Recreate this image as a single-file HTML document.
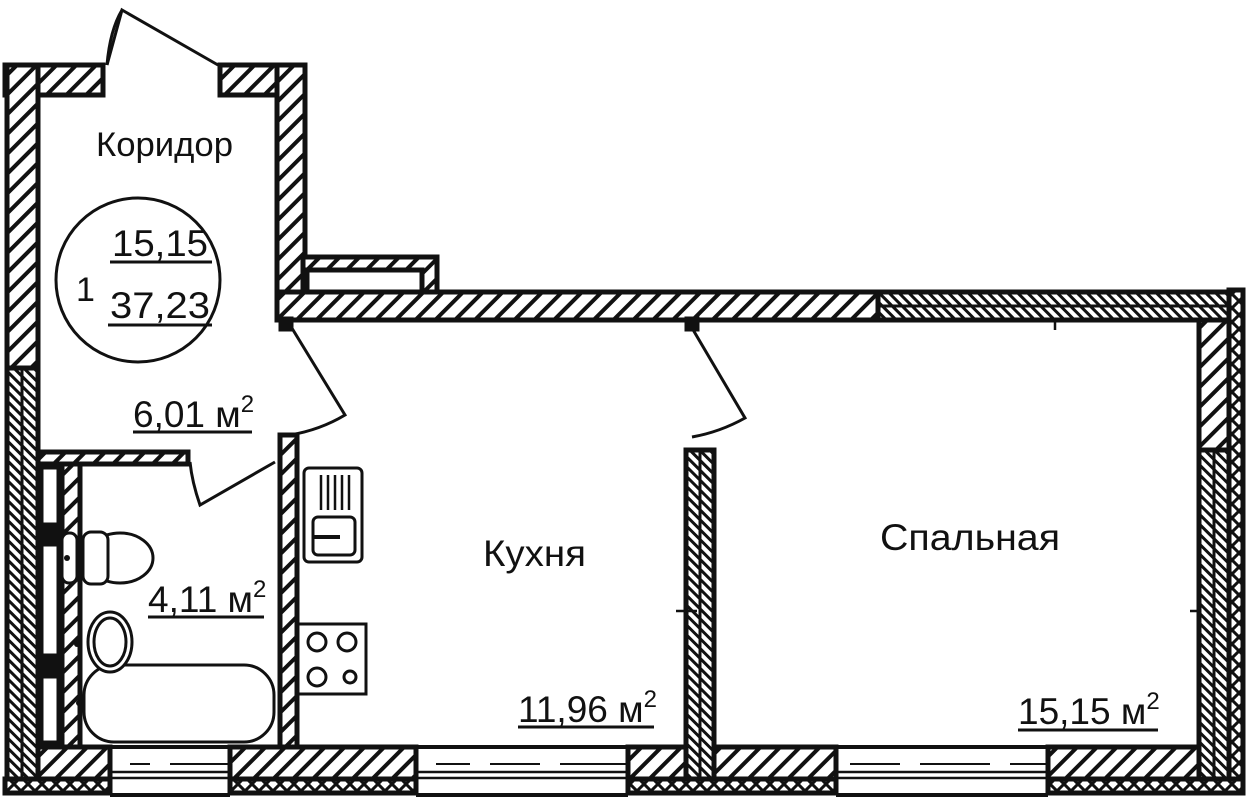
<!DOCTYPE html>
<html><head><meta charset="utf-8"><style>
html,body{margin:0;padding:0;background:#fff;width:1247px;height:801px;overflow:hidden}
svg{display:block}
text{font-family:"Liberation Sans",sans-serif;fill:#111}
</style></head><body>
<svg width="1247" height="801" viewBox="0 0 1247 801" xmlns="http://www.w3.org/2000/svg">
<defs>
<pattern id="h" width="14" height="14" patternUnits="userSpaceOnUse" patternTransform="rotate(45)">
<rect width="14" height="14" fill="#fff"/><rect x="0" y="0" width="4" height="14" fill="#111"/></pattern>
<pattern id="d" width="7" height="7" patternUnits="userSpaceOnUse" patternTransform="rotate(-45)">
<rect width="7" height="7" fill="#fff"/><rect x="0" y="0" width="3" height="7" fill="#111"/></pattern>
<pattern id="x" width="14" height="14" patternUnits="userSpaceOnUse">
<rect width="14" height="14" fill="#fff"/><path d="M0 0L14 14M14 0L0 14" stroke="#111" stroke-width="3"/></pattern>
</defs>
<g stroke="#111" stroke-width="5">
<rect x="5" y="65" width="98" height="30" fill="url(#h)"/>
<rect x="220" y="65" width="85" height="30" fill="url(#h)"/>
<rect x="7" y="65" width="31" height="305" fill="url(#h)"/>
<rect x="7" y="368" width="31" height="412" fill="url(#d)"/>
<line x1="22" y1="370" x2="22" y2="780" stroke-width="3"/>
<rect x="277" y="65" width="28" height="255" fill="url(#h)"/>
<rect x="303" y="257" width="134" height="40" fill="url(#h)"/>
<rect x="307" y="270" width="115" height="34" fill="#fff"/>
<rect x="277" y="292" width="603" height="28" fill="url(#h)"/>
<rect x="878" y="292" width="354" height="28" fill="url(#d)"/>
<line x1="880" y1="306" x2="1230" y2="306" stroke-width="3"/>
<rect x="1199" y="320" width="30" height="130" fill="url(#h)"/>
<rect x="1199" y="450" width="30" height="330" fill="url(#d)"/>
<line x1="1214" y1="452" x2="1214" y2="778" stroke-width="3"/>
<rect x="1229" y="290" width="14" height="500" fill="url(#x)"/>
<rect x="686" y="450" width="28" height="330" fill="url(#d)"/>
<line x1="700" y1="452" x2="700" y2="778" stroke-width="3"/>
<rect x="280" y="435" width="17" height="312" fill="url(#h)"/>
<rect x="38" y="452" width="150" height="12" fill="url(#h)"/>
<rect x="38" y="464" width="24" height="283" fill="#111"/>
<rect x="42" y="468" width="16" height="56" fill="#fff" stroke-width="3"/>
<rect x="42" y="545" width="16" height="110" fill="#fff" stroke-width="3"/>
<rect x="42" y="677" width="16" height="65" fill="#fff" stroke-width="3"/>
<rect x="62" y="464" width="18" height="283" fill="url(#h)"/>
<rect x="38" y="747" width="72" height="32" fill="url(#h)"/>
<rect x="230" y="747" width="186" height="32" fill="url(#h)"/>
<rect x="628" y="747" width="58" height="32" fill="url(#h)"/>
<rect x="714" y="747" width="122" height="32" fill="url(#h)"/>
<rect x="1048" y="747" width="151" height="32" fill="url(#h)"/>
<rect x="5" y="779" width="105" height="14" fill="url(#x)"/>
<rect x="230" y="779" width="186" height="14" fill="url(#x)"/>
<rect x="628" y="779" width="208" height="14" fill="url(#x)"/>
<rect x="1048" y="779" width="195" height="14" fill="url(#x)"/>
</g>
<g stroke="#111" fill="none">
<path d="M110 747H230M110 795H230M416 747H628M416 795H628M836 747H1048M836 795H1048" stroke-width="4"/>
<path d="M110 772H230M110 778H230M416 772H628M416 778H628M836 772H1048M836 778H1048" stroke-width="2.5"/>
<path d="M130 764H150M170 764H228M436 764H470M490 764H540M560 764H626M850 764H900M920 764H990M1010 764H1046" stroke-width="2"/>
</g>
<g stroke="#111" stroke-width="3" fill="none">
<path d="M107 65 L122 10 L218 65"/><path d="M107 65 Q110 30 122 10"/>
<path d="M290 325 L345 415 Q320 430 290 435"/>
<path d="M692 328 L745 418 Q720 432 692 437"/>
<path d="M275 462 L200 505 Q192 482 190 462"/>
<rect x="280" y="318" width="12" height="12" fill="#111"/>
<rect x="686" y="318" width="12" height="12" fill="#111"/>
</g>
<g stroke="#111" stroke-width="3" fill="#fff">
<rect x="304" y="468" width="58" height="94" rx="5"/>
<rect x="313" y="517" width="42" height="38" rx="5"/>
<path d="M321 475V510M328 475V510M335 475V510M342 475V510M349 475V510" stroke-width="2.5"/>
<path d="M312 537H340" stroke-width="4"/>
<rect x="298" y="624" width="68" height="70"/>
<circle cx="317" cy="642" r="9"/><circle cx="347" cy="642" r="9"/>
<circle cx="317" cy="677" r="9"/><circle cx="350" cy="677" r="6"/>
<rect x="62" y="533" width="15" height="50" rx="7"/>
<ellipse cx="120" cy="558" rx="33" ry="25"/>
<rect x="83" y="532" width="25" height="52" rx="8"/>
<rect x="84" y="665" width="190" height="77" rx="30"/>
<ellipse cx="110" cy="642" rx="22" ry="30"/>
<ellipse cx="110" cy="642" rx="16" ry="24"/>
</g>
<g fill="#111"><circle cx="67" cy="558" r="3"/><circle cx="77" cy="644" r="3"/><circle cx="79" cy="703" r="3"/></g>
<g stroke="#111" stroke-width="2.5">
<path d="M1055 320V330M676 611H697M1190 611H1200M680 611H690"/>
</g>
<circle cx="138" cy="280" r="82" fill="none" stroke="#111" stroke-width="3"/>
<g font-size="37">
<text x="112" y="256" textLength="96" lengthAdjust="spacingAndGlyphs">15,15</text>
<text x="110" y="318" textLength="100" lengthAdjust="spacingAndGlyphs">37,23</text>
<text x="76" y="301" font-size="34">1</text>
<text x="96" y="156" font-size="34" textLength="137" lengthAdjust="spacingAndGlyphs">Коридор</text>
<text x="133" y="427">6,01 м<tspan font-size="24" dy="-15">2</tspan></text>
<text x="148" y="612">4,11 м<tspan font-size="24" dy="-15">2</tspan></text>
<text x="483" y="566" textLength="103" lengthAdjust="spacingAndGlyphs">Кухня</text>
<text x="518" y="722">11,96 м<tspan font-size="24" dy="-15">2</tspan></text>
<text x="880" y="550" textLength="180" lengthAdjust="spacingAndGlyphs">Спальная</text>
<text x="1018" y="724">15,15 м<tspan font-size="24" dy="-15">2</tspan></text>
</g>
<g stroke="#111" stroke-width="3">
<path d="M110 262H212M108 325H212M133 432H252M148 617H264M518 727H654M1018 730H1158"/>
</g>
</svg>
</body></html>
